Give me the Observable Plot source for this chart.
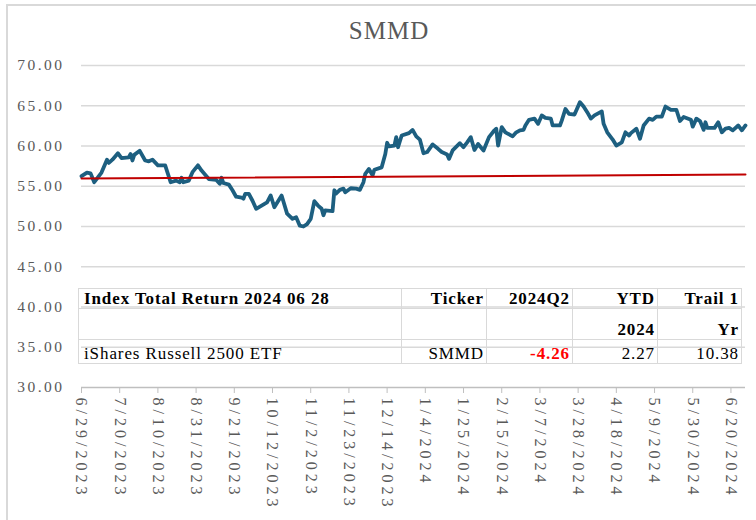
<!DOCTYPE html>
<html><head><meta charset="utf-8">
<script src="https://cdn.jsdelivr.net/npm/d3@7"></script>
<script src="https://cdn.jsdelivr.net/npm/@observablehq/plot@0.6"></script>
<style>
body{margin:0;background:#fff;}
#wrap{position:relative;width:756px;height:520px;overflow:hidden;font-family:"Liberation Serif",serif;}
#frame{position:absolute;left:6px;top:4px;width:900px;height:700px;border-left:2px solid #d9d9d9;border-top:2px solid #d9d9d9;}
#title{position:absolute;left:0;width:778px;top:17px;text-align:center;font-size:25px;color:#595959;letter-spacing:1px;}
#chart{position:absolute;left:0;top:0;}
#chart svg g[aria-label="y-axis tick label"] text{letter-spacing:2.5px;}
#chart svg g[aria-label="x-axis tick label"] text{letter-spacing:4px;}
#tbl{position:absolute;left:78px;top:288px;border-collapse:collapse;table-layout:fixed;font-size:17px;letter-spacing:0.9px;color:#000;}
#tbl td{border:1.5px solid #d9d9d9;padding:0 2px 0 5px;text-align:right;vertical-align:bottom;white-space:nowrap;overflow:hidden;line-height:18px;}
#tbl td.l{text-align:left;}
#tbl tr.h td{font-weight:bold;}
#tbl td.neg{color:#ff0000;font-weight:bold;}
</style></head>
<body>
<div id="wrap">
  <div id="frame"></div>
  <div id="title"></div>
  <div id="chart"></div>
  <table id="tbl"></table>
</div>
<script>
const chartTitle = "SMMD";
const dates = [
"2023-06-29","2023-07-02","2023-07-04","2023-07-06","2023-07-08","2023-07-10","2023-07-13","2023-07-14","2023-07-16","2023-07-19",
"2023-07-21","2023-07-25","2023-07-26","2023-07-27","2023-07-28","2023-07-31","2023-08-03","2023-08-05","2023-08-07","2023-08-10",
"2023-08-14","2023-08-17","2023-08-20","2023-08-22","2023-08-23","2023-08-24","2023-08-27","2023-08-29","2023-09-01","2023-09-03",
"2023-09-07","2023-09-11","2023-09-13","2023-09-14","2023-09-15","2023-09-18","2023-09-20","2023-09-22","2023-09-25","2023-09-26",
"2023-09-27","2023-09-29","2023-10-01","2023-10-03","2023-10-06","2023-10-09","2023-10-11","2023-10-13","2023-10-17","2023-10-20",
"2023-10-23","2023-10-25","2023-10-27","2023-10-29","2023-10-31","2023-11-02","2023-11-04","2023-11-06","2023-11-08","2023-11-09",
"2023-11-10","2023-11-14","2023-11-15","2023-11-16","2023-11-18","2023-11-20","2023-11-21","2023-11-24","2023-11-27","2023-11-29",
"2023-12-01","2023-12-02","2023-12-04","2023-12-06","2023-12-07","2023-12-11","2023-12-13","2023-12-14","2023-12-15","2023-12-18",
"2023-12-19","2023-12-20","2023-12-22","2023-12-26","2023-12-28","2023-12-30","2024-01-01","2024-01-03","2024-01-05","2024-01-08",
"2024-01-11","2024-01-13","2024-01-16","2024-01-17","2024-01-19","2024-01-23","2024-01-25","2024-01-27","2024-01-29","2024-01-31",
"2024-02-02","2024-02-05","2024-02-08","2024-02-11","2024-02-12","2024-02-13","2024-02-15","2024-02-17","2024-02-21","2024-02-23",
"2024-02-25","2024-02-27","2024-02-28","2024-03-01","2024-03-04","2024-03-06","2024-03-08","2024-03-10","2024-03-13","2024-03-14",
"2024-03-18","2024-03-19","2024-03-21","2024-03-23","2024-03-26","2024-03-29","2024-03-31","2024-04-02","2024-04-04","2024-04-06",
"2024-04-10","2024-04-11","2024-04-13","2024-04-16","2024-04-18","2024-04-21","2024-04-23","2024-04-25","2024-04-26","2024-04-29",
"2024-05-01","2024-05-03","2024-05-06","2024-05-08","2024-05-10","2024-05-13","2024-05-15","2024-05-18","2024-05-21","2024-05-23",
"2024-05-25","2024-05-29","2024-05-30","2024-06-01","2024-06-03","2024-06-05","2024-06-06","2024-06-07","2024-06-11","2024-06-13",
"2024-06-15","2024-06-17","2024-06-19","2024-06-21","2024-06-24","2024-06-26","2024-06-28"
];
const prices = [
56.25,56.7,56.6,55.5,56.1,56.7,58.3,57.9,58.3,59.1,
58.5,58.6,59.0,58.2,58.9,59.4,58.2,58.1,58.3,57.6,
57.6,55.5,55.7,55.5,56.05,55.5,55.7,56.75,57.6,56.95,
55.9,55.8,55.3,56.05,55.4,55.2,54.5,53.7,53.6,53.45,
54.05,54.05,53.2,52.2,52.6,53.0,53.85,52.4,53.85,51.6,
50.95,51.15,50.1,50.0,50.3,50.95,53.15,52.6,52.2,51.4,
52.0,51.9,54.5,54.1,54.55,54.7,54.25,54.75,54.7,54.55,
55.5,56.55,57.15,56.35,57.05,57.35,59.0,60.4,59.95,60.05,
61.1,59.85,61.3,61.6,62.0,61.2,60.8,59.1,59.25,60.2,
59.65,59.25,58.95,58.4,59.45,60.35,59.85,60.45,61.1,59.5,
60.25,59.45,61.1,61.95,62.15,60.05,62.35,61.7,61.2,61.7,
61.95,62.0,62.55,63.25,63.4,62.75,63.8,63.5,63.4,62.55,
62.55,63.15,64.6,64.0,63.9,65.45,64.9,64.2,63.4,63.8,
64.3,62.75,61.7,60.8,60.05,60.45,61.7,61.3,61.6,62.15,
60.9,62.55,63.4,63.25,63.65,63.65,64.9,64.5,64.5,63.1,
63.6,63.25,62.4,63.4,63.1,62.0,62.95,62.25,62.25,62.95,
61.7,62.15,62.25,61.95,62.55,61.95,62.55
];
const trendDates = ["2023-06-29","2024-06-28"];
const trendValues = [55.95,56.45];
const yTicks = [35,40,45,50,55,60,65,70];
const xTickLabels = ["2023-06-29","2023-07-20","2023-08-10","2023-08-31","2023-09-21","2023-10-12","2023-11-02","2023-11-23","2023-12-14",
"2024-01-04","2024-01-25","2024-02-15","2024-03-07","2024-03-28","2024-04-18","2024-05-09","2024-05-30","2024-06-20"];
const tableHeader1 = ["Index Total Return 2024 06 28","Ticker","2024Q2","YTD","Trail 1"];
const tableHeader2 = ["","","","2024","Yr"];
const tableRow = ["iShares Russell 2500 ETF","SMMD","-4.26","2.27","10.38"];
const colWidths = [323,85,86,85,84];
const rowHeights = [20,31,24];

document.getElementById("title").textContent = chartTitle;

const series = dates.map((d,i)=>({date:new Date(d), value:prices[i]}));
const trend = trendDates.map((d,i)=>({date:new Date(d), value:trendValues[i]}));
const xTicks = xTickLabels.map(d=>new Date(d));
const fmt = d3.utcFormat("%-m/%-d/%Y");

const chart = Plot.plot({
  width:756, height:520,
  marginLeft:81, marginRight:11, marginTop:65, marginBottom:133,
  x:{type:"utc", domain:[new Date("2023-06-29"), new Date("2024-06-28")], label:null},
  y:{domain:[30,70], label:null},
  style:{fontFamily:"Liberation Serif", fontSize:"15px", color:"#595959", background:"transparent", overflow:"visible"},
  marks:[
    Plot.gridY(yTicks, {stroke:"#d9d9d9", strokeOpacity:1, strokeWidth:1.5}),
    Plot.axisY([30,...yTicks], {tickSize:0, tickPadding:17, tickFormat:d=>d.toFixed(2), fill:"#595959", fontSize:15.5, label:null}),
    Plot.ruleY([30], {stroke:"#bfbfbf", strokeWidth:1.5}),
    Plot.axisX(xTicks, {tickRotate:90, tickSize:6, tickPadding:4, stroke:"#bfbfbf", fill:"#595959", tickFormat:fmt, fontSize:16, label:null}),
    Plot.line(series, {x:"date", y:"value", stroke:"#1d5f80", strokeWidth:3.8, strokeLinejoin:"round"}),
    Plot.line(trend, {x:"date", y:"value", stroke:"#c00000", strokeWidth:2})
  ]
});
document.getElementById("chart").appendChild(chart);

const tbl = document.getElementById("tbl");
const cg = document.createElement("colgroup");
colWidths.forEach(w=>{const c=document.createElement("col"); c.style.width=w+"px"; cg.appendChild(c);});
tbl.appendChild(cg);
[tableHeader1, tableHeader2, tableRow].forEach((row,ri)=>{
  const tr = document.createElement("tr");
  if (ri<2) tr.className="h";
  tr.style.height = rowHeights[ri]+"px";
  row.forEach((v,ci)=>{
    const td = document.createElement("td");
    td.textContent = v;
    if (ci===0) td.className="l";
    if (ri===2 && parseFloat(v)<0) td.className="neg";
    tr.appendChild(td);
  });
  tbl.appendChild(tr);
});
</script>
</body></html>
